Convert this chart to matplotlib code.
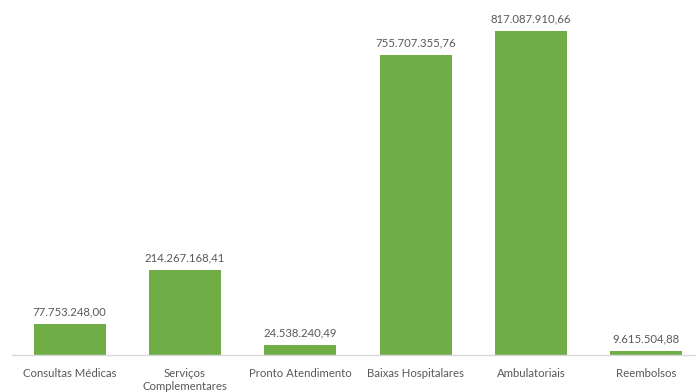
import matplotlib.pyplot as plt

categories = ["Consultas Médicas", "Serviços\nComplementares", "Pronto Atendimento",
              "Baixas Hospitalares", "Ambulatoriais", "Reembolsos"]
values = [77753248.00, 214267168.41, 24538240.49, 755707355.76, 817087910.66, 9615504.88]


def fmt_br(v):
    s = f"{v:,.2f}"
    return s.replace(",", "X").replace(".", ",").replace("X", ".")


plt.rcParams['font.family'] = ['Lato', 'DejaVu Sans']
fig = plt.figure(figsize=(6.96, 3.92), dpi=100)
ax = fig.add_axes([12 / 696, 37 / 392, 692 / 696, 355 / 392])

x = range(len(categories))
ax.bar(x, values, width=0.625, color="#70AD47", zorder=2)
ax.set_xlim(-0.5, len(categories) - 0.5)
ax.set_ylim(0, 895e6)

for xi, v in zip(x, values):
    ax.annotate(fmt_br(v), (xi, v), xytext=(0, 5), textcoords="offset points",
                ha="center", va="bottom", fontsize=8.2, color="#595959")

ax.set_xticks(list(x))
ax.set_xticklabels(categories, fontsize=8.2, color="#595959", linespacing=1.2)
ax.tick_params(axis="x", length=0, pad=9.5)
ax.set_yticks([])
for side in ("top", "right", "left"):
    ax.spines[side].set_visible(False)
ax.spines["bottom"].set_color("#D9D9D9")
ax.spines["bottom"].set_linewidth(1.0)

fig.savefig("out.png", dpi=100)
